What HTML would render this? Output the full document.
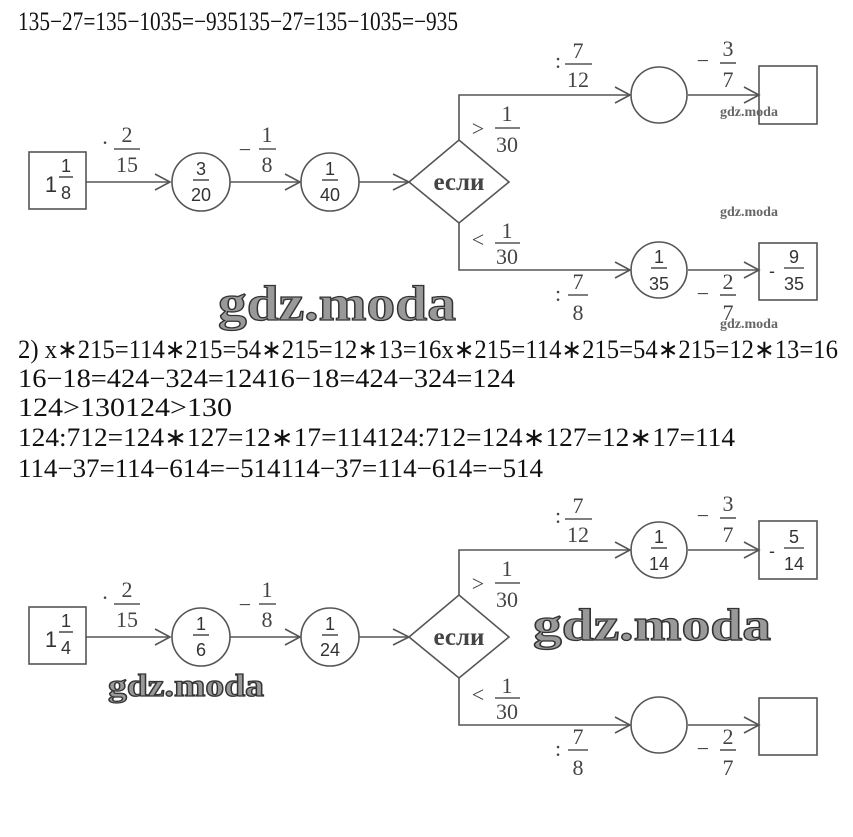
<!DOCTYPE html>
<html><head><meta charset="utf-8"><style>
html,body{margin:0;padding:0;background:#fff;}
svg{display:block;}
.t{font-family:"Liberation Serif",serif;font-size:26px;fill:#111;}
.s{font-family:"Liberation Sans",sans-serif;font-size:18px;fill:#333;text-anchor:middle;}
.m{font-family:"Liberation Sans",sans-serif;font-size:22px;fill:#333;text-anchor:middle;}
.f{font-family:"Liberation Serif",serif;font-size:22px;fill:#444;text-anchor:middle;}
.e{font-family:"Liberation Serif",serif;font-size:25px;font-weight:bold;fill:#444;text-anchor:middle;}
.wb{font-family:"Liberation Serif",serif;font-weight:bold;fill:#999;stroke:#333;stroke-width:1.3;}
.ws{font-family:"Liberation Serif",serif;font-weight:bold;font-size:14px;fill:#666;}
.l{stroke:#555;stroke-width:1.6;fill:none;}
</style></head><body>
<svg width="853" height="837" viewBox="0 0 853 837" xmlns="http://www.w3.org/2000/svg">
<defs>
<g id="d">
  <path class="l" d="M86 182H170M230 182H300M359 182H409M459 140V95H630M688 95H759M459 223V270H630M688 270H759"/>
  <path class="l" d="M155 174L170 182L155 190M285 174L300 182L285 190M393 174L409 182L393 190M615 87L630 95L615 103M744 87L759 95L744 103M615 262L630 270L615 278M744 262L759 270L744 278"/>
  <rect class="l" x="29" y="152" width="57" height="57"/>
  <circle class="l" cx="201" cy="182" r="29"/>
  <circle class="l" cx="330" cy="182" r="29"/>
  <polygon class="l" points="409,182 459,140 509,182 459,223"/>
  <text class="e" x="459" y="190">если</text>
  <circle class="l" cx="659" cy="95" r="28"/>
  <circle class="l" cx="659" cy="270" r="28"/>
  <rect class="l" x="759" y="66" width="58" height="58"/>
  <rect class="l" x="759" y="243" width="58" height="57"/>
  <text class="f" x="105" y="150">·</text>
  <text class="f" x="127" y="142">2</text><line class="l" x1="114" y1="149" x2="140" y2="149" stroke-width="1.2"/><text class="f" x="127" y="172">15</text>
  <text class="f" x="245" y="157">−</text>
  <text class="f" x="267" y="142">1</text><line class="l" x1="259" y1="149" x2="276" y2="149" stroke-width="1.2"/><text class="f" x="267" y="172">8</text>
  <text class="f" x="478" y="136">&gt;</text>
  <text class="f" x="507" y="121">1</text><line class="l" x1="495" y1="128" x2="520" y2="128" stroke-width="1.2"/><text class="f" x="507" y="152">30</text>
  <text class="f" x="478" y="247">&lt;</text>
  <text class="f" x="507" y="238">1</text><line class="l" x1="495" y1="243" x2="520" y2="243" stroke-width="1.2"/><text class="f" x="507" y="264">30</text>
  <text class="f" x="558" y="68">:</text>
  <text class="f" x="578" y="58">7</text><line class="l" x1="565" y1="64" x2="592" y2="64" stroke-width="1.2"/><text class="f" x="578" y="87">12</text>
  <text class="f" x="703" y="68">−</text>
  <text class="f" x="728" y="56">3</text><line class="l" x1="720" y1="63" x2="736" y2="63" stroke-width="1.2"/><text class="f" x="728" y="87">7</text>
  <text class="f" x="558" y="301">:</text>
  <text class="f" x="578" y="289">7</text><line class="l" x1="568" y1="295" x2="588" y2="295" stroke-width="1.2"/><text class="f" x="578" y="320">8</text>
  <text class="f" x="703" y="301">−</text>
  <text class="f" x="728" y="289">2</text><line class="l" x1="720" y1="295" x2="736" y2="295" stroke-width="1.2"/><text class="f" x="728" y="320">7</text>
</g>
</defs>
<text class="t" x="18" y="30" textLength="440" lengthAdjust="spacingAndGlyphs" font-size="24">135−27=135−1035=−935135−27=135−1035=−935</text>

<use href="#d"/>
<text class="m" x="51" y="192">1</text><text class="s" x="66" y="172">1</text><line class="l" x1="59" y1="177" x2="73" y2="177" stroke-width="1.2"/><text class="s" x="66" y="199">8</text>
<text class="s" x="201" y="175">3</text><line class="l" x1="193" y1="180" x2="209" y2="180" stroke-width="1.2"/><text class="s" x="201" y="201">20</text>
<text class="s" x="330" y="175">1</text><line class="l" x1="322" y1="180" x2="338" y2="180" stroke-width="1.2"/><text class="s" x="330" y="201">40</text>
<text class="s" x="659" y="263">1</text><line class="l" x1="651" y1="268" x2="667" y2="268" stroke-width="1.2"/><text class="s" x="659" y="290">35</text>
<text class="s" x="772" y="277">-</text><text class="s" x="794" y="263">9</text><line class="l" x1="784" y1="268" x2="804" y2="268" stroke-width="1.2"/><text class="s" x="794" y="290">35</text>

<text class="wb" x="218" y="320" font-size="50" textLength="238" lengthAdjust="spacingAndGlyphs">gdz.moda</text>
<text class="ws" x="720" y="116">gdz.moda</text>
<text class="ws" x="720" y="216">gdz.moda</text>
<text class="ws" x="720" y="328">gdz.moda</text>

<text class="t" x="18" y="358" textLength="820" lengthAdjust="spacingAndGlyphs">2) x∗215=114∗215=54∗215=12∗13=16x∗215=114∗215=54∗215=12∗13=16</text>
<text class="t" x="18" y="387" textLength="497" lengthAdjust="spacingAndGlyphs">16−18=424−324=12416−18=424−324=124</text>
<text class="t" x="18" y="416" textLength="214" lengthAdjust="spacingAndGlyphs">124&gt;130124&gt;130</text>
<text class="t" x="18" y="446" textLength="717" lengthAdjust="spacingAndGlyphs">124:712=124∗127=12∗17=114124:712=124∗127=12∗17=114</text>
<text class="t" x="18" y="477" textLength="525" lengthAdjust="spacingAndGlyphs">114−37=114−614=−514114−37=114−614=−514</text>

<g transform="translate(0,455)">
<use href="#d"/>
<text class="m" x="51" y="192">1</text><text class="s" x="66" y="172">1</text><line class="l" x1="59" y1="177" x2="73" y2="177" stroke-width="1.2"/><text class="s" x="66" y="199">4</text>
<text class="s" x="201" y="175">1</text><line class="l" x1="193" y1="180" x2="209" y2="180" stroke-width="1.2"/><text class="s" x="201" y="201">6</text>
<text class="s" x="330" y="175">1</text><line class="l" x1="322" y1="180" x2="338" y2="180" stroke-width="1.2"/><text class="s" x="330" y="201">24</text>
<text class="s" x="659" y="88">1</text><line class="l" x1="651" y1="93" x2="667" y2="93" stroke-width="1.2"/><text class="s" x="659" y="115">14</text>
<text class="s" x="772" y="102">-</text><text class="s" x="794" y="88">5</text><line class="l" x1="784" y1="93" x2="804" y2="93" stroke-width="1.2"/><text class="s" x="794" y="115">14</text>
</g>
<text class="wb" x="533" y="640" font-size="46" textLength="238" lengthAdjust="spacingAndGlyphs">gdz.moda</text>
<text class="wb" x="108" y="696" font-size="32" textLength="156" lengthAdjust="spacingAndGlyphs" stroke-width="1">gdz.moda</text>
</svg>
</body></html>
